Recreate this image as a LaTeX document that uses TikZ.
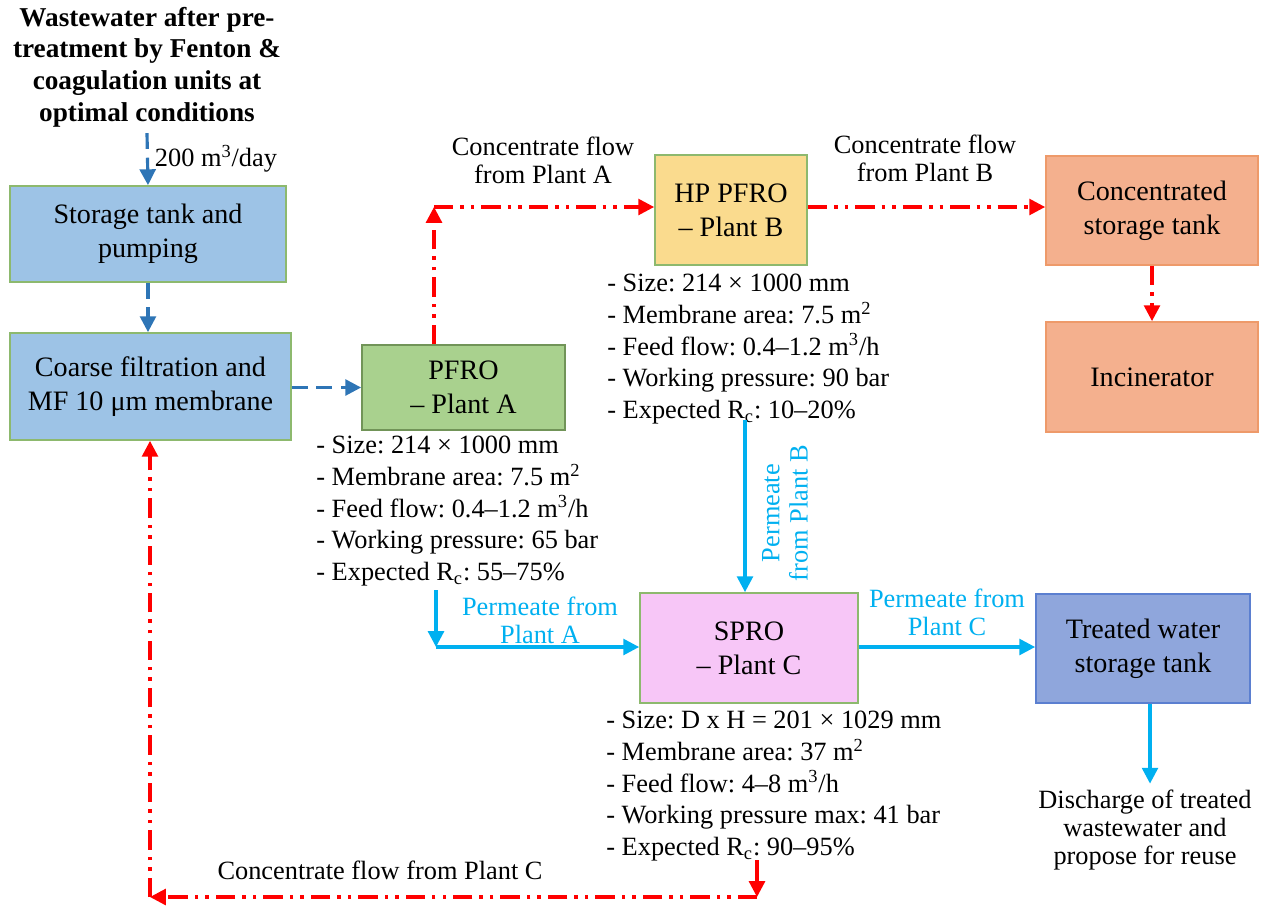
\documentclass[tikz,border=0pt]{standalone}
\usepackage{fontspec}
\setmainfont{Liberation Serif}
\usepackage{xcolor}
\usetikzlibrary{positioning, arrows.meta}
\frenchspacing

\definecolor{flowblue}{HTML}{2E75B6}
\definecolor{permblue}{HTML}{00B0F0}
\definecolor{concred}{HTML}{FF0000}
\definecolor{tankblue}{HTML}{9DC3E6}
\definecolor{edgegreen}{HTML}{8DB96E}
\definecolor{pfrogreen}{HTML}{A9D18E}
\definecolor{hpyellow}{HTML}{FADB8E}
\definecolor{concorange}{HTML}{F4B08E}
\definecolor{edgeorange}{HTML}{EE9A6A}
\definecolor{spropink}{HTML}{F7C6F7}
\definecolor{treatblue}{HTML}{8FA6DC}
\definecolor{edgeblue}{HTML}{5B7FD0}

\tikzset{
    block/.style={
        draw = edgegreen, line width = 1pt,
        align = center,
        font = \fontsize{16}{19.5}\selectfont
    },
    info/.style = {anchor = north west, align = left, inner sep = 0pt,
        font = \fontsize{15}{16}\selectfont},
    lbl/.style = {align = center, font = \fontsize{15}{16}\selectfont},
    line/.style = {-{Triangle[length=9pt, width=9pt]}},
    feed/.style = {flowblue, line width = 1.8pt, dash pattern = on 9pt off 5pt},
    perm/.style = {permblue, line width = 1.8pt},
    conc/.style = {concred, line width = 1.8pt,
        dash pattern = on 11pt off 4pt on 2pt off 4pt on 2pt off 4pt}
}

\begin{document}
\begin{tikzpicture}[x=0.02cm, y=-0.02cm]
    \useasboundingbox (0,0) rectangle (1263,907);

    \node[align = center, font = \bfseries\fontsize{15.5}{18}\selectfont] (title) at (147,67)
        {Wastewater after pre-\\treatment by Fenton \&\\coagulation units at\\optimal conditions};

    \node[block, fill = tankblue, minimum width = 5.52cm, minimum height = 1.92cm] (store) at (148,234)
        {Storage tank and\\pumping};
    \node[block, fill = tankblue, minimum width = 5.62cm, minimum height = 2.14cm] (coarse) at (150.5,386.5)
        {Coarse filtration and\\MF 10 μm membrane};
    \node[block, fill = pfrogreen, draw = edgegreen!80!black, minimum width = 4.06cm, minimum height = 1.7cm] (pfro) at (463.5,387.5)
        {PFRO\\-- Plant A};
    \node[block, fill = hpyellow, minimum width = 3.04cm, minimum height = 2.2cm] (hp) at (731,210)
        {HP PFRO\\-- Plant B};
    \node[block, fill = concorange, draw = edgeorange, minimum width = 4.24cm, minimum height = 2.18cm] (tank) at (1152,210.5)
        {Concentrated\\storage tank};
    \node[block, fill = concorange, draw = edgeorange, minimum width = 4.24cm, minimum height = 2.2cm] (incin) at (1152,377)
        {Incinerator};
    \node[block, fill = spropink, minimum width = 4.36cm, minimum height = 2.2cm] (spro) at (749,648)
        {SPRO\\-- Plant C};
    \node[block, fill = treatblue, draw = edgeblue, minimum width = 4.28cm, minimum height = 2.18cm] (treated) at (1143,648.5)
        {Treated water\\storage tank};

    \node[lbl] (discharge) at (1145,830) {Discharge of treated\\wastewater and\\propose for reuse};

    % specifications
    \node[info] (pfro-spec) at (316,436) {- Size: 214 × 1000 mm\\[2pt]
        - Membrane area: 7.5 m\textsuperscript{2}\\[2pt]
        - Feed flow: 0.4--1.2 m\textsuperscript{3}/h\\[2pt]
        - Working pressure: 65 bar\\[2pt]
        - Expected R\textsubscript{c}: 55--75\%};
    \node[info] (hp-spec) at (607,274) {- Size: 214 × 1000 mm\\[2pt]
        - Membrane area: 7.5 m\textsuperscript{2}\\[2pt]
        - Feed flow: 0.4--1.2 m\textsuperscript{3}/h\\[2pt]
        - Working pressure: 90 bar\\[2pt]
        - Expected R\textsubscript{c}: 10--20\%};
    \node[info] (spro-spec) at (606,711) {- Size: D x H = 201 × 1029 mm\\[2pt]
        - Membrane area: 37 m\textsuperscript{2}\\[2pt]
        - Feed flow: 4--8 m\textsuperscript{3}/h\\[2pt]
        - Working pressure max: 41 bar\\[2pt]
        - Expected R\textsubscript{c}: 90--95\%};

    % feed line
    \draw[feed, line] (title.south) -- (store.north) node[midway, right, lbl, black] {200 m\textsuperscript{3}/day};
    \draw[feed, line] (store.south) -- (store.south |- coarse.north);
    \draw[feed, line] (coarse.east |- pfro.west) -- (pfro.west);

    % concentrate lines
    \coordinate (ca) at (434,207);
    \draw[conc, line] (pfro.north -| ca) -- (ca);
    \draw[conc, line] (ca) -- (hp.west |- ca);
    \node[lbl] (ca-lbl) at (543,160) {Concentrate flow\\from Plant A};
    \draw[conc, line] (hp.east |- ca) -- (tank.west |- ca);
    \node[lbl] (cb-lbl) at (925,158) {Concentrate flow\\from Plant B};
    \draw[conc, line] (tank.south) -- (incin.north);

    \coordinate (cc1) at (757,860);
    \coordinate (cc2) at (757,897);
    \coordinate (cc3) at (150,897);
    \draw[concred, line width = 1.8pt, line] (cc1) -- (cc2);
    \draw[conc, line] (cc2) -- (cc3);
    \draw[conc, line] (cc3) -- (coarse.south -| cc3);
    \node[lbl] (cc-lbl) at (380,870) {Concentrate flow from Plant C};

    % permeate lines
    \coordinate (pb) at (745,420);
    \draw[perm, line] (pb) -- (pb |- spro.north);
    \node[lbl, permblue, rotate = 90] (pb-lbl) at (785,513) {Permeate\\from Plant B};

    \coordinate (pa1) at (436,590);
    \coordinate (pa2) at (436,647);
    \draw[perm, line] (pa1) -- (pa2);
    \draw[perm, line] (pa2) -- (spro.west |- pa2);
    \node[lbl, permblue] (pa-lbl) at (540,620) {Permeate from\\Plant A};

    \draw[perm, line] (spro.east |- pa2) -- (treated.west |- pa2);
    \node[lbl, permblue] (pc-lbl) at (947,612) {Permeate from\\Plant C};

    \draw[perm, line] (treated.south -| 1150,0) -- (discharge.north -| 1150,0);

\end{tikzpicture}
\end{document}
